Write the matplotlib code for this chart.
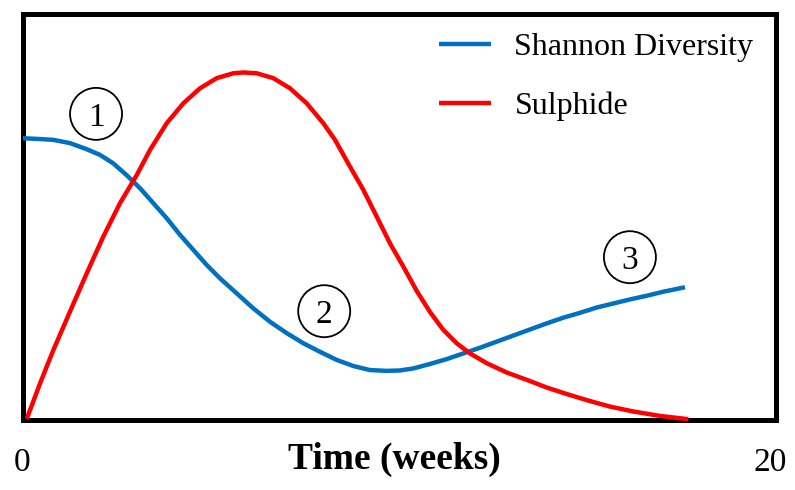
import matplotlib
matplotlib.use("Agg")
import matplotlib.pyplot as plt
from matplotlib.patches import Ellipse
from matplotlib.transforms import ScaledTranslation

plt.rcParams['font.family'] = ['Liberation Serif', 'DejaVu Serif']

# Data (weeks, arbitrary units 0-100)
shannon_x = [0.0, 0.452, 0.805, 1.248, 1.691, 2.045, 2.399, 2.753, 3.108, 3.462,
             3.816, 4.170, 4.524, 4.878, 5.232, 5.675, 6.117, 6.560, 7.003, 7.446,
             7.888, 8.331, 8.773, 9.216, 9.659, 10.013, 10.367, 10.810, 11.254,
             11.695, 12.138, 12.582, 13.023, 13.466, 13.910, 14.351, 14.794,
             15.238, 15.679, 16.122, 16.566, 17.007, 17.583]
shannon_y = [69.4, 69.2, 69.0, 68.2, 66.7, 65.3, 63.2, 60.3, 57.1, 53.4,
             49.7, 45.6, 41.9, 38.2, 34.9, 31.2, 27.5, 24.2, 21.4, 18.9,
             16.8, 14.8, 13.3, 12.3, 12.1, 12.2, 12.7, 13.8, 15.0,
             16.4, 17.8, 19.3, 20.8, 22.3, 23.8, 25.2, 26.4,
             27.7, 28.7, 29.7, 30.6, 31.6, 32.7]

sulphide_x = [0.10, 0.452, 0.805, 1.248, 1.691, 2.134, 2.576, 3.019, 3.373, 3.817,
              4.258, 4.701, 5.145, 5.586, 5.851, 6.207, 6.648, 7.092, 7.535, 7.976,
              8.287, 8.685, 9.039, 9.394, 9.748, 10.101, 10.457, 10.810, 11.163,
              11.519, 11.873, 12.316, 12.847, 13.378, 13.910, 14.441, 14.972,
              15.591, 16.210, 16.919, 17.671]
sulphide_y = [0.3, 9.0, 17.2, 26.7, 36.1, 45.2, 53.4, 60.3, 66.5, 73.1,
              78.0, 81.7, 84.2, 85.4, 85.6, 85.4, 84.2, 81.7, 78.0, 73.1,
              69.0, 62.4, 56.7, 50.1, 43.5, 37.8, 31.8, 26.6, 22.2,
              18.9, 16.4, 14.0, 11.7, 9.9, 8.0, 6.4, 4.9,
              3.3, 2.1, 1.0, 0.2]

tick_values = [0, 20]
tick_labels = ['0', '20']
phase_labels = ['1', '2', '3']
phase_x = [1.94, 8.0, 16.12]
phase_y = [75.4, 26.8, 40.1]

fig = plt.figure(figsize=(7.95, 4.9), dpi=100)
ax = fig.add_axes([23/795, 70/490, 753/795, 406/490])

ax.plot(shannon_x, shannon_y, color='#0070C0', lw=3.2, label='Shannon Diversity',
        solid_capstyle='butt', solid_joinstyle='round', zorder=3)
ax.plot(sulphide_x, sulphide_y, color='#FF0000', lw=3.2, label='Sulphide',
        solid_capstyle='butt', solid_joinstyle='round', zorder=3, clip_on=False)

ax.set_xlim(0, 20)
ax.set_ylim(0, 100)

for s in ax.spines.values():
    s.set_linewidth(3.6)
    s.set_color('black')

ax.set_yticks([])
ax.set_xticks(tick_values)
ax.set_xticklabels(tick_labels, fontsize=24)
ax.tick_params(axis='x', length=0, pad=20)
labs = ax.get_xticklabels()
labs[1].set_transform(labs[1].get_transform() + ScaledTranslation(-6/100, 0, fig.dpi_scale_trans))
labs[0].set_transform(labs[0].get_transform() + ScaledTranslation(-1/100, 0, fig.dpi_scale_trans))

fig.text(394/795, 21/490, 'Time (weeks)', fontsize=27, fontweight='bold',
         ha='center', va='baseline')

# circled phase numbers
rx = 52 / 37.65
ry = 52 / 4.06
for lab, px, py in zip(phase_labels, phase_x, phase_y):
    ax.add_patch(Ellipse((px, py), rx, ry, fill=False, edgecolor='black', lw=1.3, zorder=4))
    ax.text(px, py, lab, fontsize=24, ha='center', va='center_baseline', zorder=5)

leg = ax.legend(loc='upper right', bbox_to_anchor=(0.9947, 1.0), frameon=False,
                fontsize=23, handlelength=1.6, handletextpad=0.75,
                labelspacing=0.94, borderaxespad=0.18)

fig.savefig('out.png', dpi=100)
